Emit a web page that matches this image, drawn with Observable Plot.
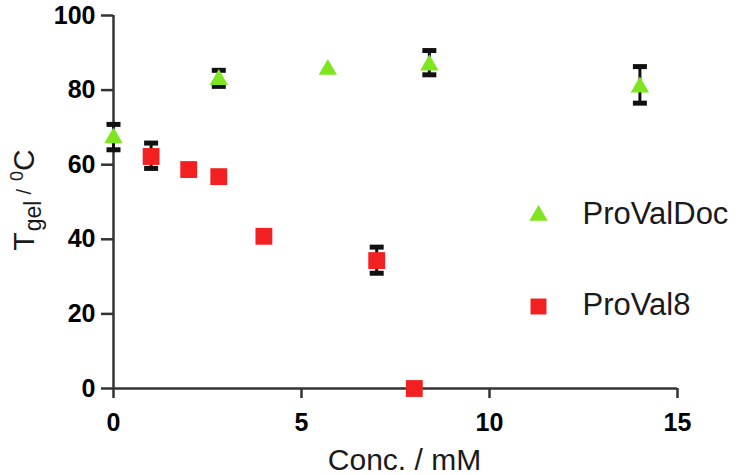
<!DOCTYPE html>
<html><head><meta charset="utf-8">
<script src="https://cdn.jsdelivr.net/npm/d3@7"></script>
<script src="https://cdn.jsdelivr.net/npm/@observablehq/plot@0.6"></script>
<style>
body{margin:0;background:#fff}
#chart svg{font-family:"Liberation Sans",Arial,sans-serif}
</style>
</head><body><div id="chart"></div>
<script>
// ProValDoc (green triangles)
const docConc = [0, 2.8, 5.7, 8.4, 14];
const docTgel = [67.2, 82.8, 85.5, 86.7, 80.8];
const docLow  = [64.0, 81.0, null, 84.1, 76.5];
const docHigh = [70.8, 85.3, null, 90.6, 86.3];
// ProVal8 (red squares)
const val8Conc = [1, 2, 2.8, 4, 7, 8];
const val8Tgel = [62.2, 58.7, 56.8, 40.8, 34.3, 0];
const val8Low  = [59.0, null, null, null, 30.9, null];
const val8High = [65.8, null, null, null, 37.9, null];

const xTicks = [0, 5, 10, 15];
const yTicks = [0, 20, 40, 60, 80, 100];
const seriesNames = ["ProValDoc", "ProVal8"];
const seriesColors = ["#7ee61e", "#f22020"];
const xLabel = "Conc. / mM";

const docPts = docConc.map((c, i) => ({series: seriesNames[0], conc: c, tgel: docTgel[i], low: docLow[i], high: docHigh[i]}));
const valPts = val8Conc.map((c, i) => ({series: seriesNames[1], conc: c, tgel: val8Tgel[i], low: val8Low[i], high: val8High[i]}));
const errs = [...docPts, ...valPts].filter(d => d.low != null);

const cap = {draw(ctx, size) { const w = Math.sqrt(size / Math.PI); ctx.moveTo(-w, 0); ctx.lineTo(w, 0); }};
const axisCol = "#333";

const chart = Plot.plot({
  width: 740, height: 475,
  marginLeft: 113, marginRight: 63, marginTop: 15, marginBottom: 87,
  x: {domain: [0, 15]},
  y: {domain: [0, 100]},
  marks: [
    Plot.ruleY([0], {stroke: axisCol, strokeWidth: 2.5}),
    Plot.ruleX([0], {stroke: axisCol, strokeWidth: 2.5}),
    Plot.axisX({ticks: xTicks, tickSize: 10, tickPadding: 15, fontSize: 25, fontWeight: "bold", label: null, stroke: axisCol, strokeWidth: 2.5, tickFormat: d => d}),
    Plot.axisY({ticks: yTicks, tickSize: 12, tickPadding: 6, fontSize: 25, fontWeight: "bold", label: null, stroke: axisCol, strokeWidth: 2.5, tickFormat: d => d}),
    Plot.ruleX(errs, {x: "conc", y1: "low", y2: "high", stroke: "#111", strokeWidth: 3}),
    Plot.dot(errs, {x: "conc", y: "low", symbol: cap, r: 7, stroke: "#111", strokeWidth: 5, fill: "none"}),
    Plot.dot(errs, {x: "conc", y: "high", symbol: cap, r: 7, stroke: "#111", strokeWidth: 5, fill: "none"}),
    Plot.dot(docPts, {x: "conc", y: "tgel", symbol: "triangle", r: 6.8, fill: seriesColors[0]}),
    Plot.dot(valPts, {x: "conc", y: "tgel", symbol: "square", r: 9.5, fill: seriesColors[1]}),
    // legend
    Plot.dot([seriesNames[0]], {frameAnchor: "top-left", dx: 425, dy: 200, symbol: "triangle", r: 6.8, fill: seriesColors[0]}),
    Plot.dot([seriesNames[1]], {frameAnchor: "top-left", dx: 425, dy: 291, symbol: "square", r: 9, fill: seriesColors[1]}),
    Plot.text([seriesNames[0]], {frameAnchor: "top-left", dx: 469, dy: 199, textAnchor: "start", lineAnchor: "middle", fontSize: 31, fill: "#1a1a1a"}),
    Plot.text([seriesNames[1]], {frameAnchor: "top-left", dx: 469, dy: 290, textAnchor: "start", lineAnchor: "middle", fontSize: 31, fill: "#1a1a1a"}),
    // x label
    Plot.text([xLabel], {frameAnchor: "bottom", dx: 9, dy: 81, lineAnchor: "bottom", fontSize: 30, fill: "#1a1a1a"})
  ]
});
document.getElementById("chart").appendChild(chart);

// y-axis label with subscript/superscript
const svg = d3.select(chart);
const yl = svg.append("text")
  .attr("transform", "translate(34,200) rotate(-90)")
  .attr("text-anchor", "middle")
  .attr("fill", "#1a1a1a")
  .attr("font-size", 30);
yl.append("tspan").text("T");
yl.append("tspan").attr("font-size", 23).attr("dx", 1).attr("dy", 7).text("gel");
yl.append("tspan").attr("font-size", 20).attr("dx", 6).attr("dy", -10).text("/");
yl.append("tspan").attr("font-size", 18).attr("dx", 8).attr("dy", -8).text("0");
yl.append("tspan").attr("dy", 11).text("C");
</script>
</body></html>
